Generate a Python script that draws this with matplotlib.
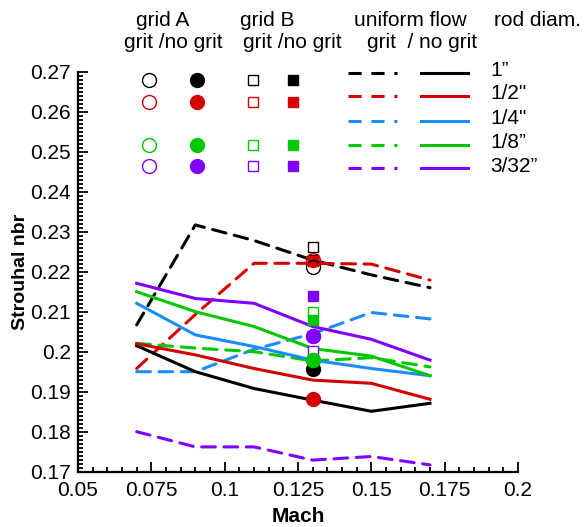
"""Strouhal number vs Mach for rods of several diameters, grit / no grit."""

import matplotlib
matplotlib.use("Agg")
import matplotlib.pyplot as plt
from matplotlib.ticker import MultipleLocator

plt.rcParams["font.family"] = ["Liberation Sans", "DejaVu Sans"]

# data
mach = [0.07, 0.09, 0.11, 0.13, 0.15, 0.17]
rods = ["1\u201d", '1/2"', '1/4"', "1/8\u201d", "3/32\u201d"]
colors = ["#000000", "#d40000", "#1a8cff", "#00c800", "#8000ff"]

# uniform flow, grit (dashed)
uf_grit = {
    "1": [0.2067, 0.2317, 0.2278, 0.2229, 0.2192, 0.2160],
    "1/2": [0.1958, 0.2093, 0.2221, 0.2221, 0.2219, 0.2179],
    "1/4": [0.1950, 0.1950, 0.2006, 0.2045, 0.2098, 0.2082],
    "1/8": [0.2021, 0.2009, 0.2000, 0.1977, 0.1985, 0.1962],
    "3/32": [0.1800, 0.1762, 0.1762, 0.1729, 0.1738, 0.1717],
}
# uniform flow, no grit (solid)
uf_nogrit = {
    "1": [0.2015, 0.1950, 0.1908, 0.1879, 0.1851, 0.1871],
    "1/2": [0.2020, 0.1992, 0.1958, 0.1929, 0.1921, 0.1881],
    "1/4": [0.2121, 0.2042, 0.2013, 0.1979, 0.1958, 0.1940],
    "1/8": [0.2150, 0.2100, 0.2063, 0.2008, 0.1989, 0.1940],
    "3/32": [0.2171, 0.2133, 0.2121, 0.2063, 0.2031, 0.1979],
}

# grid measurements, all at one Mach number (1/4" not measured)
grid_mach = 0.13
grid_keys = ["1", "1/2", "1/8", "3/32"]
gridA_grit = [0.2212, 0.2229, 0.1979, 0.2039]
gridA_nogrit = [0.1958, 0.1881, 0.1979, 0.2039]
gridB_grit = [0.2261, 0.2229, 0.2099, 0.2001]
gridB_nogrit = [0.2229, 0.2226, 0.2079, 0.2139]

keys = ["1", "1/2", "1/4", "1/8", "3/32"]
col = dict(zip(keys, colors))

W, H = 588, 527
fig = plt.figure(figsize=(W / 100, H / 100), dpi=100)
ax = fig.add_axes([78 / W, 1 - 471.7 / H, 440 / W, 400 / H])

lw = 2.2
for k in keys:
    ax.plot(mach, uf_grit[k], color=col[k], lw=lw, dashes=(4.5, 2.8), dash_capstyle="round", zorder=2)
for k in keys:
    ax.plot(mach, uf_nogrit[k], color=col[k], lw=lw, zorder=3)

# grid markers, order chosen so overlaps look like the original
ms_c, ms_s = 10, 7.5
for k, v in zip(grid_keys, gridB_grit):
    ax.plot(grid_mach, v, "s", ms=ms_s, mfc="white", mec=col[k], mew=1.0, zorder=4)
for k, v in zip(grid_keys, gridB_nogrit):
    ax.plot(grid_mach, v, "s", ms=ms_s, color=col[k], zorder=5)
for k, v in zip(grid_keys, gridA_nogrit):
    ax.plot(grid_mach, v, "o", ms=ms_c, color=col[k], zorder=6)
for k, v in zip(grid_keys, gridA_grit):
    ax.plot(grid_mach, v, "o", ms=ms_c, mfc="none", mec=col[k], mew=1.0, zorder=7)

ax.set_xlim(0.05, 0.2)
ax.set_ylim(0.17, 0.27)
ax.xaxis.set_major_locator(MultipleLocator(0.025))
ax.xaxis.set_minor_locator(MultipleLocator(0.005))
ax.yaxis.set_major_locator(MultipleLocator(0.01))
ax.yaxis.set_minor_locator(MultipleLocator(0.001))
ax.xaxis.set_major_formatter(plt.FuncFormatter(lambda v, p: f"{v:g}"))
ax.yaxis.set_major_formatter(plt.FuncFormatter(lambda v, p: f"{v:g}"))
for s in ["top", "right"]:
    ax.spines[s].set_visible(False)
for s in ["left", "bottom"]:
    ax.spines[s].set_linewidth(1.6)
ax.tick_params(which="both", direction="in", labelsize=15, width=1.3)
ax.tick_params(which="major", length=7)
ax.tick_params(which="minor", length=3.5)
ax.tick_params(axis="x", pad=7)
ax.tick_params(axis="y", pad=5)
ax.set_xlabel("Mach", fontsize=15, fontweight="bold", labelpad=5)
ax.set_ylabel("Strouhal nbr", fontsize=14, fontweight="bold", labelpad=1)

# hand-made legend in pixel coordinates
lax = fig.add_axes([0, 0, 1, 1], zorder=10)
lax.set_xlim(0, W)
lax.set_ylim(H, 0)
lax.axis("off")
fs = 15
lax.text(163, 20, "grid A", ha="center", va="center", fontsize=fs)
lax.text(173, 42, "grit /no grit", ha="center", va="center", fontsize=fs)
lax.text(267, 20, "grid B", ha="center", va="center", fontsize=fs)
lax.text(292, 42, "grit /no grit", ha="center", va="center", fontsize=fs)
lax.text(410, 20, "uniform flow", ha="center", va="center", fontsize=fs)
lax.text(422, 42, "grit  / no grit", ha="center", va="center", fontsize=fs)
lax.text(537, 20, "rod diam.", ha="center", va="center", fontsize=fs)

marker_rows = [80, 101.7, 145, 166]
for k, y in zip(grid_keys, marker_rows):
    lax.plot(149, y, "o", ms=ms_c, mfc="white", mec=col[k], mew=1.0)
    lax.plot(197, y, "o", ms=ms_c, color=col[k])
    lax.plot(253, y, "s", ms=ms_s, mfc="white", mec=col[k], mew=1.0)
    lax.plot(293, y, "s", ms=ms_s, color=col[k])

line_rows = [72.7, 95.5, 120.7, 145, 168]
for k, lab, y in zip(keys, rods, line_rows):
    lax.plot([348, 397], [y, y], color=col[k], lw=lw, dashes=(4.3, 3.2))
    lax.plot([421, 468], [y, y], color=col[k], lw=lw)
    lax.text(490, y - 2, lab, ha="left", va="center", fontsize=fs)

fig.savefig("out.png", dpi=100)
